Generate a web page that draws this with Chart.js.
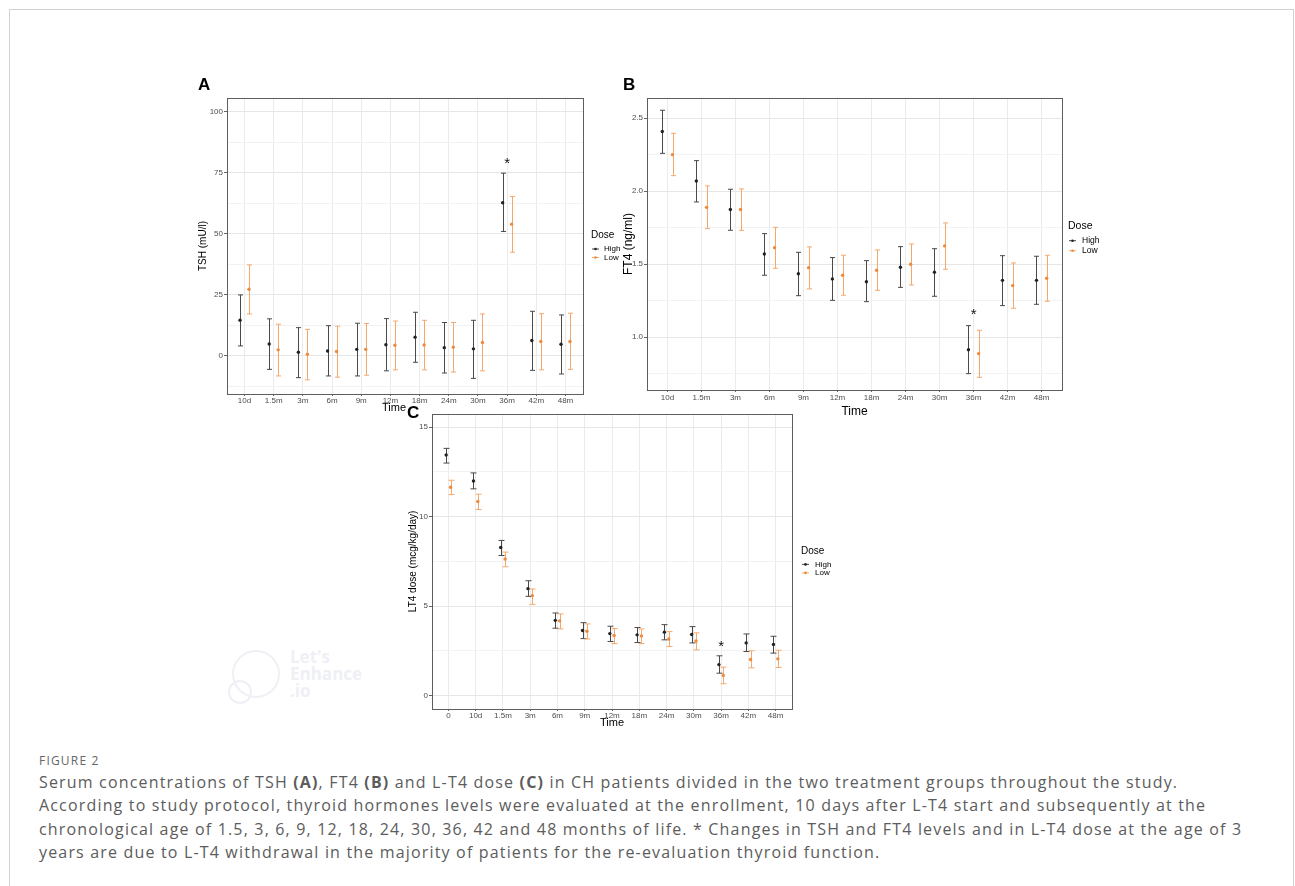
<!DOCTYPE html>
<html>
<head>
<meta charset="utf-8">
<script src="https://cdn.jsdelivr.net/npm/chart.js@4.4.1/dist/chart.umd.min.js"></script>
<style>
  body { margin: 0; background: #fff; width: 1295px; height: 886px; overflow: hidden; position: relative; }
  #frame { position: absolute; left: 9px; top: 9px; width: 1283px; height: 900px; border: 1px solid #d2d2d2; }
  canvas { position: absolute; }
  .lab { position: absolute; font: bold 17px "Liberation Sans", Arial, sans-serif; color: #000; }
  #cap { position: absolute; left: 39px; top: 751px; font-family: "Open Sans", sans-serif; color: #5c5c5c; white-space: nowrap; }
  #cap .fig { font-size: 12px; letter-spacing: 1.2px; line-height: 20px; color: #666; }
  #cap .txt { font-size: 16px; letter-spacing: 1.17px; line-height: 23.3px; }
  #wm { position: absolute; left: 290px; top: 648px; font: bold 17px "Open Sans", sans-serif; line-height: 17px; color: #eef0f5; }
  .ring { position: absolute; border: 2px solid #eef0f5; border-radius: 50%; }
</style>
</head>
<body>
<div id="frame"></div>

<div class="ring" style="left:232px;top:650px;width:44px;height:44px;"></div>
<div class="ring" style="left:228px;top:680px;width:20px;height:20px;"></div>
<div id="wm">Let's<br>Enhance<br>.io</div>

<canvas id="cA" width="444" height="323" style="left:196px;top:92px;"></canvas>
<canvas id="cB" width="490" height="327" style="left:620px;top:92px;background:#fff;"></canvas>
<canvas id="cC" width="444" height="322" style="left:406px;top:408px;"></canvas>

<div class="lab" style="left:198px;top:75px;">A</div>
<div class="lab" style="left:623px;top:75px;">B</div>
<div class="lab" style="left:407px;top:403px;">C</div>

<div id="cap">
  <div class="fig">FIGURE 2</div>
  <div class="txt">Serum concentrations of TSH <b>(A)</b>, FT4 <b>(B)</b> and L-T4 dose <b>(C)</b> in CH patients divided in the two treatment groups throughout the study.</div>
  <div class="txt">According to study protocol, thyroid hormones levels were evaluated at the enrollment, 10 days after L-T4 start and subsequently at the</div>
  <div class="txt">chronological age of 1.5, 3, 6, 9, 12, 18, 24, 30, 36, 42 and 48 months of life. * Changes in TSH and FT4 levels and in L-T4 dose at the age of 3</div>
  <div class="txt">years are due to L-T4 withdrawal in the majority of patients for the re-evaluation thyroid function.</div>
</div>

<script>
// time points
const timeAB = ['10d', '1.5m', '3m', '6m', '9m', '12m', '18m', '24m', '30m', '36m', '42m', '48m'];
const timeC = ['0', '10d', '1.5m', '3m', '6m', '9m', '12m', '18m', '24m', '30m', '36m', '42m', '48m'];

// A: TSH (mU/l)
const tshHigh   = [14.6, 4.9, 1.5, 2.0, 2.7, 4.6, 7.7, 3.4, 2.9, 62.8, 6.3, 4.8];
const tshHighLo = [4.1, -5.5, -8.9, -8.2, -8.2, -6.1, -2.6, -7.0, -9.2, 51.0, -5.9, -7.4];
const tshHighUp = [25.0, 15.2, 11.6, 12.4, 13.4, 15.3, 17.9, 13.7, 14.6, 74.9, 18.3, 16.8];
const tshLow    = [27.3, 2.5, 0.7, 1.8, 2.7, 4.4, 4.5, 3.6, 5.5, 54.0, 5.9, 5.9];
const tshLowLo  = [17.2, -8.2, -9.8, -8.7, -7.9, -5.7, -5.7, -6.6, -6.1, 42.5, -5.7, -5.5];
const tshLowUp  = [37.3, 13.0, 10.9, 12.2, 13.3, 14.3, 14.6, 13.7, 17.2, 65.3, 17.3, 17.5];

// B: FT4 (ng/ml)
const ft4High   = [2.41, 2.07, 1.875, 1.57, 1.435, 1.40, 1.38, 1.48, 1.445, 0.915, 1.39, 1.39];
const ft4HighLo = [2.26, 1.927, 1.733, 1.425, 1.285, 1.253, 1.244, 1.342, 1.281, 0.751, 1.217, 1.226];
const ft4HighUp = [2.555, 2.21, 2.014, 1.71, 1.582, 1.546, 1.525, 1.621, 1.607, 1.08, 1.559, 1.555];
const ft4Low    = [2.251, 1.89, 1.875, 1.614, 1.477, 1.425, 1.459, 1.50, 1.626, 0.888, 1.354, 1.404];
const ft4LowLo  = [2.107, 1.744, 1.733, 1.473, 1.331, 1.288, 1.322, 1.358, 1.466, 0.726, 1.199, 1.247];
const ft4LowUp  = [2.397, 2.037, 2.016, 1.753, 1.619, 1.562, 1.598, 1.639, 1.783, 1.048, 1.509, 1.562];

// C: LT4 dose (mcg/kg/day)
const lt4High   = [13.44, 11.99, 8.28, 5.98, 4.21, 3.64, 3.47, 3.40, 3.55, 3.42, 1.74, 2.95, 2.86];
const lt4HighLo = [12.99, 11.55, 7.83, 5.55, 3.77, 3.19, 3.03, 2.97, 3.12, 2.95, 1.26, 2.47, 2.38];
const lt4HighUp = [13.81, 12.44, 8.67, 6.42, 4.62, 4.08, 3.88, 3.81, 3.97, 3.86, 2.23, 3.45, 3.32];
const lt4Low    = [11.64, 10.84, 7.63, 5.59, 4.18, 3.60, 3.36, 3.34, 3.17, 3.06, 1.13, 2.02, 2.06];
const lt4LowLo  = [11.23, 10.40, 7.20, 5.10, 3.73, 3.17, 2.91, 2.91, 2.75, 2.56, 0.67, 1.56, 1.58];
const lt4LowUp  = [12.03, 11.25, 8.02, 5.96, 4.57, 4.01, 3.75, 3.73, 3.58, 3.51, 1.60, 2.51, 2.54];

// y ticks (major + minor grid)
const tshTicks = [-12.5, 0, 12.5, 25, 37.5, 50, 62.5, 75, 87.5, 100];
const ft4Ticks = [0.75, 1.0, 1.25, 1.5, 1.75, 2.0, 2.25, 2.5];
const lt4Ticks = [0, 2.5, 5, 7.5, 10, 12.5, 15];

const HIGH = '#222', HIGH_BAR = '#4a4a4a';
const LOW = '#ee8a3c', LOW_BAR = '#f4a86c';

Chart.defaults.font.family = '"Liberation Sans", Arial, sans-serif';

const errorBars = {
  id: 'errorBars',
  beforeDatasetsDraw(chart) {
    const { ctx, scales: { x, y } } = chart;
    const cap = chart.options.plugins.errorBars.cap;
    chart.data.datasets.forEach(ds => {
      ctx.save();
      ctx.strokeStyle = ds.barColor;
      ctx.lineWidth = 1;
      ds.data.forEach((p, i) => {
        const px = Math.round(x.getPixelForValue(p.x)) + 0.5;
        const top = y.getPixelForValue(ds.up[i]);
        const bot = y.getPixelForValue(ds.lo[i]);
        ctx.beginPath();
        ctx.moveTo(px, top); ctx.lineTo(px, bot);
        ctx.moveTo(px - cap, top); ctx.lineTo(px + cap, top);
        ctx.moveTo(px - cap, bot); ctx.lineTo(px + cap, bot);
        ctx.stroke();
      });
      ctx.restore();
    });
  },
  afterDraw(chart) {
    const { ctx, chartArea: a, scales: { x, y } } = chart;
    const o = chart.options.plugins.errorBars;
    ctx.save();
    // panel border
    ctx.strokeStyle = '#5e5e5e';
    ctx.lineWidth = 1;
    ctx.strokeRect(Math.round(a.left) + 0.5, Math.round(a.top) + 0.5, Math.round(a.width), Math.round(a.height));
    // significance star
    ctx.fillStyle = '#111';
    ctx.font = '15px "Liberation Sans", Arial, sans-serif';
    ctx.textAlign = 'center';
    ctx.textBaseline = 'middle';
    ctx.fillText('*', x.getPixelForValue(o.star[0]), y.getPixelForValue(o.star[1]) + 3);
    // legend
    const lx = a.right + o.legend[0], ly = (a.top + a.bottom) / 2 + o.legend[1];
    ctx.textAlign = 'left';
    ctx.fillStyle = '#000';
    ctx.font = o.legendTitle + 'px "Liberation Sans", Arial, sans-serif';
    ctx.fillText('Dose', lx, ly);
    ctx.font = o.legendItem + 'px "Liberation Sans", Arial, sans-serif';
    [['High', HIGH_BAR, HIGH], ['Low', LOW_BAR, LOW]].forEach(([t, c, pc], k) => {
      const yy = ly + o.legendFirst + o.legendGap * k;
      ctx.strokeStyle = c;
      ctx.beginPath(); ctx.moveTo(lx + 1, yy); ctx.lineTo(lx + 8, yy); ctx.stroke();
      ctx.fillStyle = pc;
      ctx.beginPath(); ctx.arc(lx + 4.5, yy, 1.3, 0, Math.PI * 2); ctx.fill();
      ctx.fillStyle = '#000';
      ctx.fillText(t, lx + o.legendText, yy);
    });
    ctx.restore();
  }
};

function panel(id, cats, hi, hiLo, hiUp, lo, loLo, loUp, dodge, yTicks, yMin, yMax, isMajor, fmt, yTitle, xTitle, opt) {
  const mk = (arr, sign) => arr.map((v, i) => ({ x: i + sign * dodge, y: v }));
  new Chart(document.getElementById(id), {
    type: 'scatter',
    data: {
      datasets: [
        { label: 'High', data: mk(hi, -1), lo: hiLo, up: hiUp, barColor: HIGH_BAR,
          pointRadius: 1.7, pointBackgroundColor: HIGH, pointBorderWidth: 0 },
        { label: 'Low', data: mk(lo, 1), lo: loLo, up: loUp, barColor: LOW_BAR,
          pointRadius: 1.7, pointBackgroundColor: LOW, pointBorderWidth: 0 }
      ]
    },
    options: {
      responsive: false,
      animation: false,
      layout: { padding: { left: 0, top: opt.top, right: opt.right, bottom: 0 } },
      plugins: {
        legend: { display: false },
        tooltip: { enabled: false },
        errorBars: opt
      },
      scales: {
        x: {
          type: 'linear', min: -0.6, max: cats.length - 0.4,
          afterBuildTicks: s => { s.ticks = cats.map((c, i) => ({ value: i })); },
          afterFit: s => { s.height = opt.xh; },
          ticks: { callback: v => cats[v], font: { size: 8 }, color: '#4d4d4d', padding: opt.xpad, maxRotation: 0, autoSkip: false },
          grid: { color: '#ebebeb', tickLength: 2, tickColor: '#666' },
          border: { display: false },
          title: { display: true, text: xTitle, font: { size: opt.xTitle }, color: '#000', padding: 0 }
        },
        y: {
          min: yMin, max: yMax,
          afterBuildTicks: s => { s.ticks = yTicks.map(v => ({ value: v })); },
          afterFit: s => { s.width = opt.yw; },
          ticks: { callback: v => isMajor(v) ? fmt(v) : '', font: { size: 8 }, color: '#4d4d4d', padding: 1, autoSkip: false },
          grid: {
            color: c => isMajor(c.tick.value) ? '#e6e6e6' : '#f2f2f2',
            tickLength: 3,
            tickColor: c => isMajor(c.tick.value) ? '#666' : 'rgba(0,0,0,0)'
          },
          border: { display: false },
          title: { display: true, text: yTitle, font: { size: opt.yTitle }, color: '#000', padding: 1 }
        }
      }
    },
    plugins: [errorBars]
  });
}

panel('cA', timeAB, tshHigh, tshHighLo, tshHighUp, tshLow, tshLowLo, tshLowUp, 0.154,
  tshTicks, -15.6, 105.7, v => v % 25 === 0, v => String(v), 'TSH (mU/l)', 'Time\u2003\u2003',
  { top: 6, right: 57, yw: 31, xh: 21, xpad: 0, cap: 2.5, star: [9, 80], legend: [8, -11],
    legendTitle: 10, legendItem: 8, legendFirst: 14, legendGap: 8.5, legendText: 13, xTitle: 11, yTitle: 10 });

panel('cB', timeAB, ft4High, ft4HighLo, ft4HighUp, ft4Low, ft4LowLo, ft4LowUp, 0.15,
  ft4Ticks, 0.639, 2.639, v => Math.abs(v * 2 - Math.round(v * 2)) < 1e-6, v => v.toFixed(1), 'FT4 (ng/ml)', 'Time',
  { top: 6, right: 48, yw: 27, xh: 29, xpad: 1, cap: 2.5, star: [9, 1.176], legend: [6, -18],
    legendTitle: 10.5, legendItem: 8.5, legendFirst: 14.7, legendGap: 10, legendText: 14, xTitle: 12, yTitle: 12 });

panel('cC', timeC, lt4High, lt4HighLo, lt4HighUp, lt4Low, lt4LowLo, lt4LowUp, 0.08,
  lt4Ticks, -0.74, 15.74, v => v % 5 === 0, v => String(v), 'LT4 dose (mcg/kg/day)', 'Time',
  { top: 5, right: 58, yw: 26, xh: 21, xpad: 0, cap: 3, star: [10, 2.91], legend: [9, -10.5],
    legendTitle: 10, legendItem: 8, legendFirst: 13.5, legendGap: 8.5, legendText: 14, xTitle: 11, yTitle: 10 });
</script>
</body>
</html>
